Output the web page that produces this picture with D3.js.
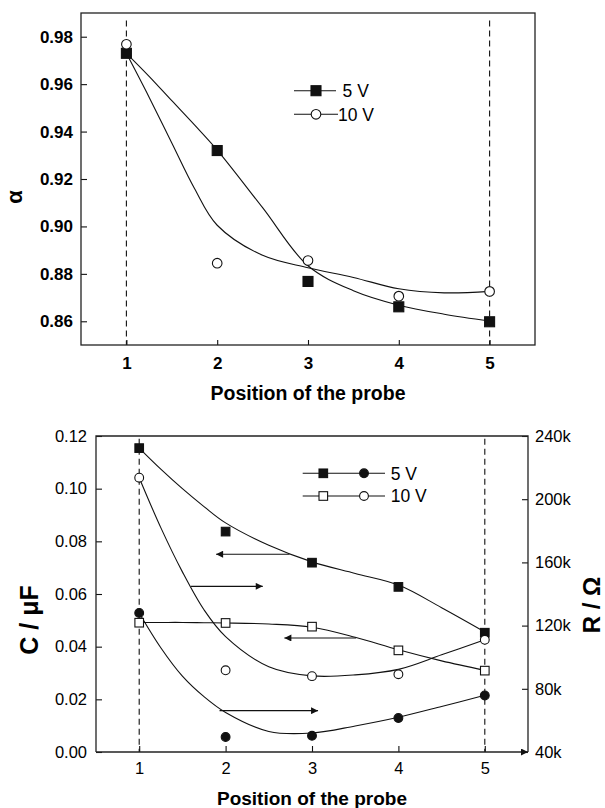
<!DOCTYPE html>
<html>
<head>
<meta charset="utf-8">
<script src="https://cdn.jsdelivr.net/npm/d3@7"></script>
<style>
body { margin: 0; background: #fff; }
svg text { font-family: "Liberation Sans", Arial, Helvetica, sans-serif; fill: #000; }
</style>
</head>
<body>
<svg id="chart" width="605" height="808"></svg>
<script>
// probe positions (x of every measured point)
var positions = [1, 2, 3, 4, 5];

// top panel: alpha
var alpha5V  = [0.973, 0.932, 0.8768, 0.8661, 0.8598];
var alpha10V = [0.9768, 0.8845, 0.8856, 0.8706, 0.8726];

// bottom panel: C in uF (squares) and R in kOhm (circles)
var cap5V  = [0.1154, 0.0837, 0.0719, 0.0627, 0.0453];
var cap10V = [0.0491, 0.0490, 0.0476, 0.0386, 0.0309];
var res5V  = [128, 49.5, 50.3, 61.5, 75.8];
var res10V = [213.6, 91.7, 88.0, 89.2, 111.0];

// fitted curves at these positions
var fitPos      = [1, 1.25, 1.5, 1.75, 2, 2.5, 3, 3.5, 4, 4.5, 5];
var alphaFit5V  = [0.973, 0.9633, 0.9530, 0.9428, 0.9322, 0.9079, 0.8834, 0.8729, 0.8668, 0.8630, 0.8601];
var alphaFit10V = [0.973, 0.9545, 0.9352, 0.9160, 0.9005, 0.8878, 0.8826, 0.8785, 0.8737, 0.8720, 0.8726];
var capFit5V    = [0.1154, 0.1074, 0.1000, 0.0932, 0.0870, 0.0785, 0.0722, 0.0678, 0.0634, 0.0548, 0.0456];
var capFit10V   = [0.0492, 0.0492, 0.0492, 0.0491, 0.0490, 0.0486, 0.0474, 0.0436, 0.0388, 0.0346, 0.0310];
var resFit5V    = [128, 106, 88, 75, 65, 53, 52, 56.5, 62, 68.8, 75.9];
var resFit10V   = [213.6, 182, 154, 130, 113, 94, 88.2, 88.8, 92.3, 101.5, 111.1];

// tick labels
var alphaTicks = [0.86, 0.88, 0.90, 0.92, 0.94, 0.96, 0.98];
var capTicks   = [0, 0.02, 0.04, 0.06, 0.08, 0.10, 0.12];
var resTicks   = [40, 80, 120, 160, 200, 240];
var legendLabels = ["5 V", "10 V"];

// the four arrows in the bottom panel (C value, start, end position)
var arrowCap  = [0.0751, 0.0629, 0.0433, 0.0157];
var arrowFrom = [2.74, 1.60, 3.51, 1.93];
var arrowTo   = [1.89, 2.43, 2.68, 3.07];

var svg = d3.select("#chart");
var ink = "#111";

var defs = svg.append("defs");
defs.append("marker")
    .attr("id", "head")
    .attr("viewBox", "0 -5 10 10")
    .attr("refX", 10).attr("refY", 0)
    .attr("markerWidth", 10).attr("markerHeight", 7)
    .attr("markerUnits", "userSpaceOnUse")
    .attr("orient", "auto")
    .append("path")
    .attr("d", "M0,-5L10,0L0,5Z")
    .attr("fill", ink);

function styleAxis(g, size, weight) {
    g.select(".domain").remove();
    g.attr("font-family", null);
    g.selectAll(".tick line").attr("stroke", ink).attr("stroke-width", 1.1);
    g.selectAll(".tick text")
        .attr("font-size", size)
        .attr("font-weight", weight);
}

function drawFit(g, x, y, ys) {
    var line = d3.line()
        .x(function(d, i) { return x(fitPos[i]); })
        .y(function(d) { return y(d); })
        .curve(d3.curveCatmullRom.alpha(0.5));
    g.append("path")
        .datum(ys)
        .attr("d", line)
        .attr("fill", "none")
        .attr("stroke", ink)
        .attr("stroke-width", 1.1);
}

function drawSquares(g, x, y, ys, side, filled) {
    g.selectAll(null)
        .data(ys)
        .enter()
        .append("rect")
        .attr("x", function(d, i) { return x(positions[i]) - side / 2; })
        .attr("y", function(d) { return y(d) - side / 2; })
        .attr("width", side).attr("height", side)
        .attr("fill", filled ? ink : "#fff")
        .attr("stroke", ink)
        .attr("stroke-width", 1.1);
}

function drawCircles(g, x, y, ys, r, filled) {
    g.selectAll(null)
        .data(ys)
        .enter()
        .append("circle")
        .attr("cx", function(d, i) { return x(positions[i]); })
        .attr("cy", function(d) { return y(d); })
        .attr("r", r)
        .attr("fill", filled ? ink : "#fff")
        .attr("stroke", ink)
        .attr("stroke-width", 1.1);
}

function legendRow(g, y, x0, x1, sq, circ, textX, label, filled, side, r) {
    g.append("line")
        .attr("x1", x0).attr("x2", x1).attr("y1", y).attr("y2", y)
        .attr("stroke", ink).attr("stroke-width", 1.1);
    if (sq != null) {
        g.append("rect")
            .attr("x", sq - side / 2).attr("y", y - side / 2)
            .attr("width", side).attr("height", side)
            .attr("fill", filled ? ink : "#fff")
            .attr("stroke", ink).attr("stroke-width", 1.1);
    }
    if (circ != null) {
        g.append("circle")
            .attr("cx", circ).attr("cy", y).attr("r", r)
            .attr("fill", filled ? ink : "#fff")
            .attr("stroke", ink).attr("stroke-width", 1.1);
    }
    g.append("text")
        .attr("x", textX).attr("y", y + 6.3)
        .attr("font-size", 17.5)
        .text(label);
}

/* ---------- top panel: alpha ---------- */
var boxA = { left: 81, right: 535, top: 13, bottom: 345 };
var xTop = d3.scaleLinear().domain([0.5, 5.5]).range([boxA.left, boxA.right]);
var yTop = d3.scaleLinear().domain([0.85, 0.99]).range([boxA.bottom, boxA.top]);
var gTop = svg.append("g");

// dashed guides at the first and last probe
[1, 5].forEach(function(p) {
    gTop.append("line")
        .attr("x1", xTop(p)).attr("x2", xTop(p))
        .attr("y1", yTop(0.9868)).attr("y2", boxA.bottom)
        .attr("stroke", ink).attr("stroke-width", 1.1)
        .attr("stroke-dasharray", "6,4");
});

gTop.append("g")
    .attr("transform", "translate(" + boxA.left + ",0)")
    .call(d3.axisLeft(yTop).tickValues(alphaTicks).tickSize(-6).tickPadding(8).tickFormat(d3.format(".2f")))
    .call(styleAxis, 17, "bold");

gTop.append("g")
    .attr("transform", "translate(0," + boxA.bottom + ")")
    .call(d3.axisBottom(xTop).tickValues(positions).tickSize(-5).tickPadding(12).tickFormat(d3.format("d")))
    .call(styleAxis, 17, "bold");

gTop.append("rect")
    .attr("x", boxA.left).attr("y", boxA.top)
    .attr("width", boxA.right - boxA.left).attr("height", boxA.bottom - boxA.top)
    .attr("fill", "none").attr("stroke", "#222").attr("stroke-width", 1.3);

drawFit(gTop, xTop, yTop, alphaFit5V);
drawFit(gTop, xTop, yTop, alphaFit10V);
drawSquares(gTop, xTop, yTop, alpha5V, 10, true);
drawCircles(gTop, xTop, yTop, alpha10V, 4.8, false);

legendRow(gTop, 90.7, 294, 336, 316, null, 342.6, legendLabels[0], true, 10, 4.8);
legendRow(gTop, 114.3, 294, 338, null, 316, 338, legendLabels[1], false, 10, 4.8);

gTop.append("text")
    .attr("x", (boxA.left + boxA.right) / 2).attr("y", 400)
    .attr("text-anchor", "middle")
    .attr("font-size", 19.5).attr("font-weight", "bold")
    .text("Position of the probe");

gTop.append("text")
    .attr("transform", "translate(22,197) rotate(-90)")
    .attr("text-anchor", "middle")
    .attr("font-size", 22).attr("font-weight", "bold")
    .text("α");

/* ---------- bottom panel: C and R ---------- */
var boxB = { left: 96, right: 528, top: 436, bottom: 752 };
var xBot = d3.scaleLinear().domain([0.5, 5.5]).range([boxB.left, boxB.right]);
var yCap = d3.scaleLinear().domain([0, 0.12]).range([boxB.bottom, boxB.top]);
var yRes = d3.scaleLinear().domain([40, 240]).range([boxB.bottom, boxB.top]);
var gBot = svg.append("g");

[1, 5].forEach(function(p) {
    gBot.append("line")
        .attr("x1", xBot(p)).attr("x2", xBot(p))
        .attr("y1", yCap(0.119)).attr("y2", boxB.bottom)
        .attr("stroke", ink).attr("stroke-width", 1.1)
        .attr("stroke-dasharray", "6,4");
});

gBot.append("g")
    .attr("transform", "translate(" + boxB.left + ",0)")
    .call(d3.axisLeft(yCap).tickValues(capTicks).tickSize(-6).tickPadding(9).tickFormat(d3.format(".2f")))
    .call(styleAxis, 16.5, "normal");

gBot.append("g")
    .attr("transform", "translate(" + boxB.right + ",0)")
    .call(d3.axisRight(yRes).tickValues(resTicks).tickSize(-6).tickPadding(7).tickFormat(function(d) { return d + "k"; }))
    .call(styleAxis, 16.5, "normal");

gBot.append("g")
    .attr("transform", "translate(0," + boxB.bottom + ")")
    .call(d3.axisBottom(xBot).tickValues(positions).tickSize(-6).tickPadding(10).tickFormat(d3.format("d")))
    .call(styleAxis, 16.5, "normal");

// frame: left, top, right; bottom axis ends in an arrow
gBot.append("path")
    .attr("d", "M" + boxB.left + "," + boxB.bottom + "V" + boxB.top + "H" + boxB.right + "V" + boxB.bottom)
    .attr("fill", "none").attr("stroke", "#222").attr("stroke-width", 1.3);
gBot.append("line")
    .attr("x1", boxB.left).attr("x2", boxB.right)
    .attr("y1", boxB.bottom).attr("y2", boxB.bottom)
    .attr("stroke", "#222").attr("stroke-width", 1.3)
    .attr("marker-end", "url(#head)");

drawFit(gBot, xBot, yCap, capFit5V);
drawFit(gBot, xBot, yCap, capFit10V);
drawFit(gBot, xBot, yRes, resFit5V);
drawFit(gBot, xBot, yRes, resFit10V);

// arrows telling which axis each curve belongs to
arrowCap.forEach(function(c, i) {
    gBot.append("line")
        .attr("x1", xBot(arrowFrom[i])).attr("x2", xBot(arrowTo[i]))
        .attr("y1", yCap(c)).attr("y2", yCap(c))
        .attr("stroke", ink).attr("stroke-width", 1.2)
        .attr("marker-end", "url(#head)");
});

drawSquares(gBot, xBot, yCap, cap5V, 8.6, true);
drawSquares(gBot, xBot, yCap, cap10V, 8.6, false);
drawCircles(gBot, xBot, yRes, res5V, 4.4, true);
drawCircles(gBot, xBot, yRes, res10V, 4.4, false);

legendRow(gBot, 473.3, 302.7, 385, 323.3, 364, 390.7, legendLabels[0], true, 8.6, 4.4);
legendRow(gBot, 496, 302.7, 385, 323.3, 364, 390.7, legendLabels[1], false, 8.6, 4.4);

gBot.append("text")
    .attr("x", (boxB.left + boxB.right) / 2).attr("y", 805)
    .attr("text-anchor", "middle")
    .attr("font-size", 19).attr("font-weight", "bold")
    .text("Position of the probe");

gBot.append("text")
    .attr("transform", "translate(38,620) rotate(-90)")
    .attr("text-anchor", "middle")
    .attr("font-size", 25).attr("font-weight", "bold")
    .text("C / μF");

gBot.append("text")
    .attr("transform", "translate(600,605) rotate(-90)")
    .attr("text-anchor", "middle")
    .attr("font-size", 24).attr("font-weight", "bold")
    .text("R / Ω");
</script>
</body>
</html>
